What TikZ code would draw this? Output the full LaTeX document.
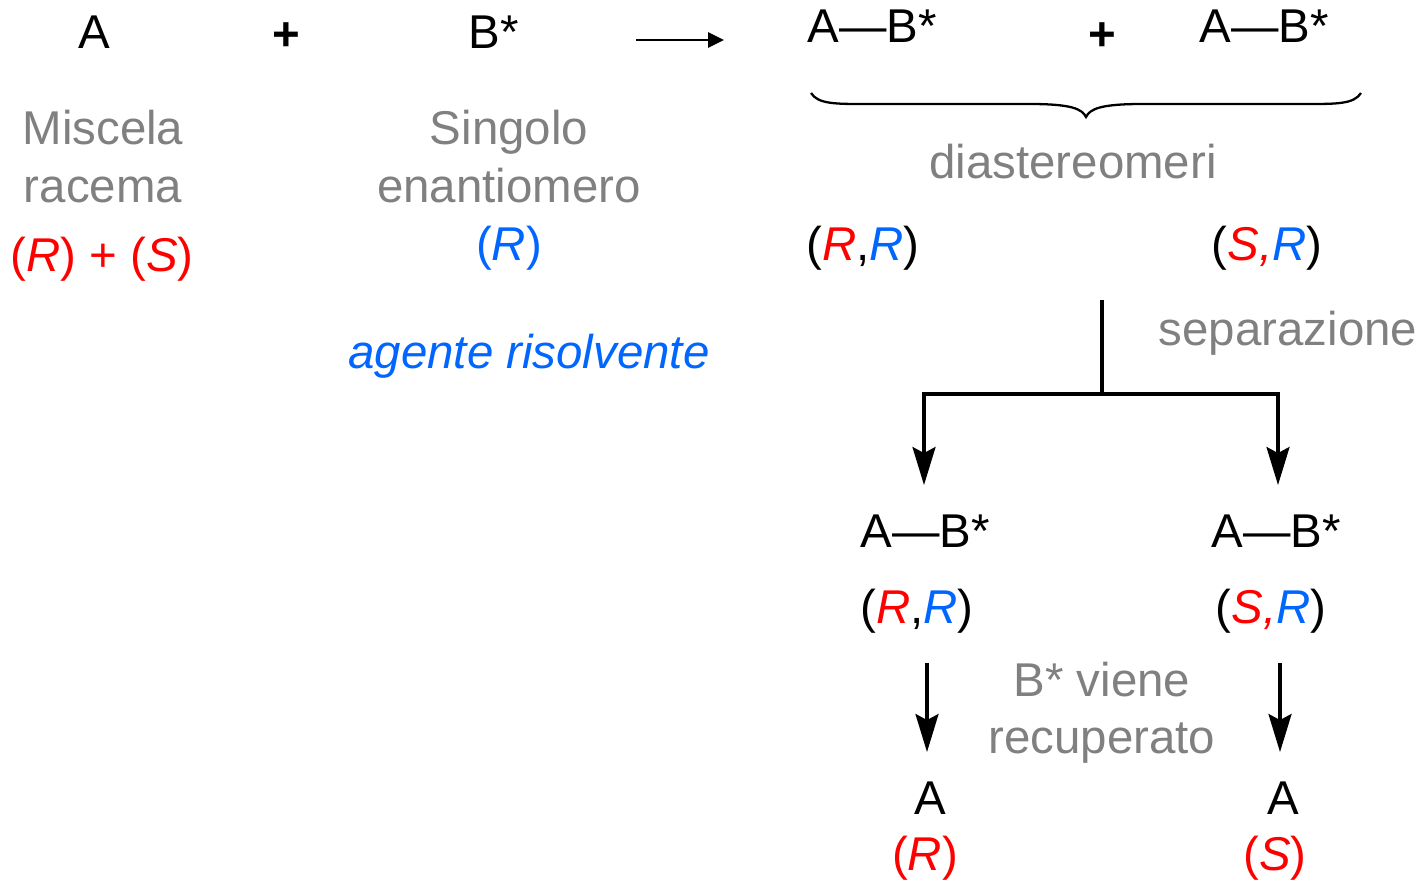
\documentclass[tikz,border=0pt]{standalone}
\usepackage{fontspec}
\setmainfont{Liberation Sans}
\usetikzlibrary{arrows.meta, positioning, calc}
\definecolor{rosso}{HTML}{FF0000}
\definecolor{blu}{HTML}{0066FF}
\definecolor{grigio}{HTML}{808080}
\newcommand{\cR}{\textcolor{rosso}{\textit{R}}}
\newcommand{\cS}{\textcolor{rosso}{\textit{S,}}}
\newcommand{\bR}{\textcolor{blu}{\textit{R}}}

\begin{document}
\begin{tikzpicture}[
        x=0.02cm, y=-0.02cm,
        >=Stealth,   % punte delle frecce
        testo/.style={
            anchor=base, 
            inner sep=0pt, 
            font=\fontsize{27}{32}\selectfont
        },
        grigio/.style={
            testo, 
            text=grigio
        },
        piu/.style={
            testo, 
            font=\fontsize{27}{32}\selectfont\bfseries
        },
        linea/.style={
            line width=1.8pt
        },
        freccia/.style={
            linea, 
            -{Stealth[length=0.76cm, width=0.46cm, inset=0.12cm]}
        }
    ]
    \useasboundingbox (0,0) rectangle (1426,880);

    % reazione
    \node[testo] (A) at (94,48) {A};
    \node[piu] (piu1) at (286,50) {+};
    \node[testo] (Bs) at (494,48) {B*};
    \coordinate (f1) at (636,40);
    \coordinate (f2) at (724,40);
    \draw[line width=1.5pt, -{Triangle[length=0.32cm, width=0.3cm]}] (f1) -- (f2);
    \node[testo] (AB1) at (872,42) {A—B*};
    \node[piu] (piu2) at (1102,50) {+};
    \node[testo] (AB2) at (1264,42) {A—B*};

    % graffa
    \draw[line width=1.3pt] (811,93) .. controls (818,104) and (835,104) .. (865,104) -- (1030,104)
        .. controls (1072,104) and (1082,109) .. (1086,117)
        .. controls (1090,109) and (1100,104) .. (1142,104) -- (1307,104)
        .. controls (1337,104) and (1354,104) .. (1361,93);

    % didascalie
    \node[grigio] (misc) at (103,144) {Miscela};
    \node[grigio] (rac) at (103,202) {racema};
    \node[testo, text=rosso] (RS) at (102,271) {(\textit{R}) + (\textit{S})};
    \node[grigio] (sing) at (509,144) {Singolo};
    \node[grigio] (enan) at (509,202) {enantiomero};
    \node[testo, text=blu] (Rb) at (509,260) {(\textit{R})};
    \node[testo, text=blu, font=\fontsize{27}{32}\selectfont\itshape] (agente) at (529,368) {agente risolvente};
    \node[grigio] (diast) at (1073,178) {diastereomeri};
    \node[testo] (RR1) at (863,260) {(\cR,\bR)};
    \node[testo] (SR1) at (1267,260) {(\cS\bR)};
    \node[grigio] (sep) at (1288,345) {separazione};

    % separazione
    \coordinate (c0) at (1102,300);
    \coordinate (c1) at (1102,394);
    \coordinate (e1) at (924,485);
    \coordinate (e2) at (1278,485);
    \draw[linea] (c0) -- (c1);
    \draw[freccia] (c1) -| (e1);
    \draw[freccia] (c1) -| (e2);

    \node[testo] (AB3) at (925,547) {A—B*};
    \node[testo] (AB4) at (1276,547) {A—B*};
    \node[testo] (RR2) at (917,623) {(\cR,\bR)};
    \node[testo] (SR2) at (1271,623) {(\cS\bR)};

    % recupero
    \coordinate (g1) at (927,663);
    \coordinate (h1) at (927,752);
    \coordinate (g2) at (1280,663);
    \coordinate (h2) at (1280,752);
    \draw[freccia] (g1) -- (h1);
    \draw[freccia] (g2) -- (h2);
    \node[grigio] (viene) at (1102,696) {B* viene};
    \node[grigio] (recup) at (1102,753) {recuperato};

    \node[testo] (A1) at (930,814) {A};
    \node[testo, text=rosso] (R1) at (925,870) {(\textit{R})};
    \node[testo] (A2) at (1283,814) {A};
    \node[testo, text=rosso] (S1) at (1275,870) {(\textit{S})};
\end{tikzpicture}
\end{document}
